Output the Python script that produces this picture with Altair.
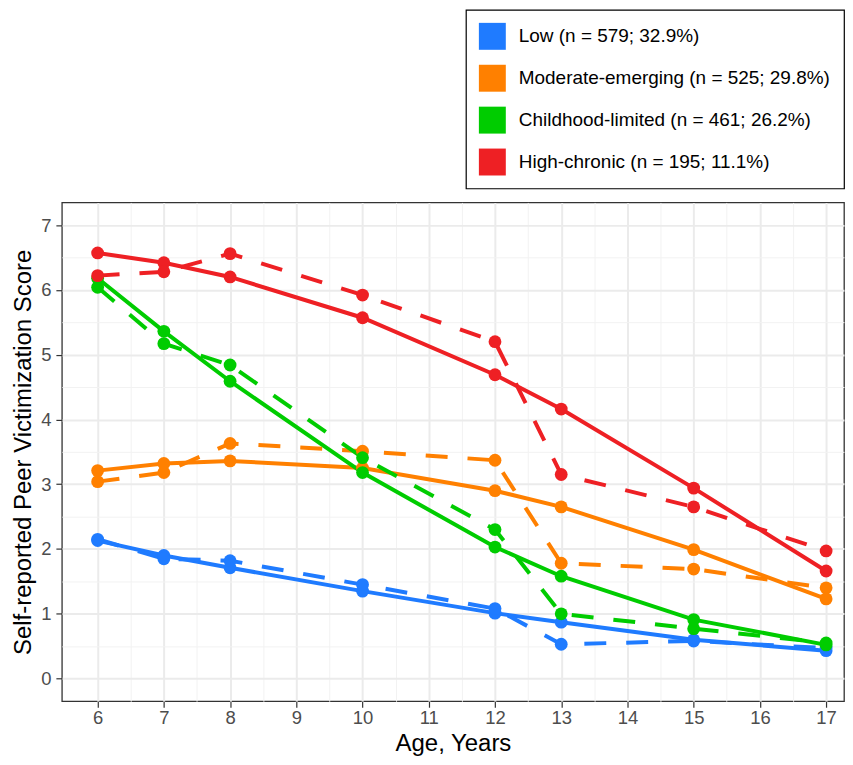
import altair as alt
import pandas as pd

ages = [6, 7, 8, 10, 12, 13, 15, 17]
groups = [
    "Low (n = 579; 32.9%)",
    "Moderate-emerging (n = 525; 29.8%)",
    "Childhood-limited (n = 461; 26.2%)",
    "High-chronic (n = 195; 11.1%)",
]
colors = ["#1F7BFF", "#FF8000", "#00CC00", "#EE2024"]

# estimated (solid) trajectories
low_est = [2.13, 1.90, 1.71, 1.35, 1.01, 0.87, 0.60, 0.43]
mod_est = [3.21, 3.32, 3.36, 3.25, 2.90, 2.65, 1.99, 1.23]
child_est = [6.18, 5.36, 4.59, 3.18, 2.03, 1.58, 0.91, 0.52]
high_est = [6.57, 6.42, 6.20, 5.57, 4.69, 4.16, 2.94, 1.66]

# observed (dashed) trajectories
low_obs = [2.15, 1.85, 1.82, 1.45, 1.08, 0.53, 0.58, 0.47]
mod_obs = [3.04, 3.18, 3.63, 3.51, 3.37, 1.78, 1.69, 1.40]
child_obs = [6.04, 5.17, 4.84, 3.41, 2.30, 1.00, 0.77, 0.55]
high_obs = [6.22, 6.28, 6.56, 5.92, 5.20, 3.15, 2.65, 1.97]

x_ticks = [v / 2 for v in range(12, 35)]
y_ticks = [v / 2 for v in range(0, 15)]

rows = []
for g, est, obs in zip(groups,
                       [low_est, mod_est, child_est, high_est],
                       [low_obs, mod_obs, child_obs, high_obs]):
    for a, e, o in zip(ages, est, obs):
        rows.append({"age": a, "score": e, "group": g, "line_group": g, "kind": "est"})
        rows.append({"age": a, "score": o, "group": g, "line_group": g, "kind": "obs"})
df = pd.DataFrame(rows)

minor_test = "datum.value % 1 !== 0"
label_expr = "datum.value % 1 === 0 ? format(datum.value, 'd') : ''"

x_enc = alt.X(
    "age:Q",
    scale=alt.Scale(domain=[5.46, 17.27], nice=False, zero=False),
    axis=alt.Axis(
        title="Age, Years",
        values=x_ticks,
        labelExpr=label_expr,
        gridWidth={"condition": {"test": minor_test, "value": 1}, "value": 2},
        gridColor={"condition": {"test": minor_test, "value": "#F2F2F2"}, "value": "#EBEBEB"},
        tickOpacity={"condition": {"test": minor_test, "value": 0}, "value": 1},
        labelPadding=1,
        titlePadding=5,
    ),
)
y_enc = alt.Y(
    "score:Q",
    scale=alt.Scale(domain=[-0.35, 7.35], nice=False, zero=False),
    axis=alt.Axis(
        title="Self-reported Peer Victimization Score",
        values=y_ticks,
        labelExpr=label_expr,
        gridWidth={"condition": {"test": minor_test, "value": 1}, "value": 2},
        gridColor={"condition": {"test": minor_test, "value": "#F2F2F2"}, "value": "#EBEBEB"},
        tickOpacity={"condition": {"test": minor_test, "value": 0}, "value": 1},
        labelPadding=5,
        titlePadding=5,
    ),
)
stroke_enc = alt.Stroke(
    "line_group:N", sort=groups, scale=alt.Scale(range=colors), legend=None
)
color_legend = alt.Color(
    "group:N",
    scale=alt.Scale(domain=groups, range=colors),
    legend=alt.Legend(
        title=None,
        orient="none",
        legendX=405,
        legendY=-193,
        symbolType="square",
        symbolSize=729,
        symbolStrokeWidth=0,
        labelFontSize=19,
        labelFont="Liberation Sans",
        labelColor="black",
        labelOffset=13,
        rowPadding=15,
        padding=13,
        strokeColor="black",
        fillColor="white",
        labelLimit=400,
    ),
)

base = alt.Chart(df)

solid = base.transform_filter("datum.kind == 'est'").mark_line(
    strokeWidth=4
).encode(x=x_enc, y=y_enc, stroke=stroke_enc, detail="line_group:N")

dashed = base.transform_filter("datum.kind == 'obs'").mark_line(
    strokeWidth=4, strokeDash=[22, 20]
).encode(x=x_enc, y=y_enc, stroke=stroke_enc, detail="line_group:N")

pts = base.mark_point(filled=True, size=165, opacity=1).encode(
    x=x_enc, y=y_enc, color=color_legend
)

chart = (
    alt.layer(solid, dashed, pts)
    .properties(
        width=784,
        height=500,
        padding={"left": 3, "top": 0, "right": 0, "bottom": 0},
    )
    .configure_view(stroke="#333333", strokeWidth=1.3)
    .configure_axis(
        domain=False,
        tickColor="#333333",
        tickSize=6,
        tickWidth=1.2,
        labelColor="#4D4D4D",
        labelFontSize=18.5,
        labelFont="Liberation Sans",
        titleFont="Liberation Sans",
        titleFontSize=24,
        titleFontWeight="normal",
        titleColor="black",
    )
    .configure_legend(strokeWidth=1.2)
)

chart.save("out.html", embed_options={"renderer": "svg", "actions": False})
